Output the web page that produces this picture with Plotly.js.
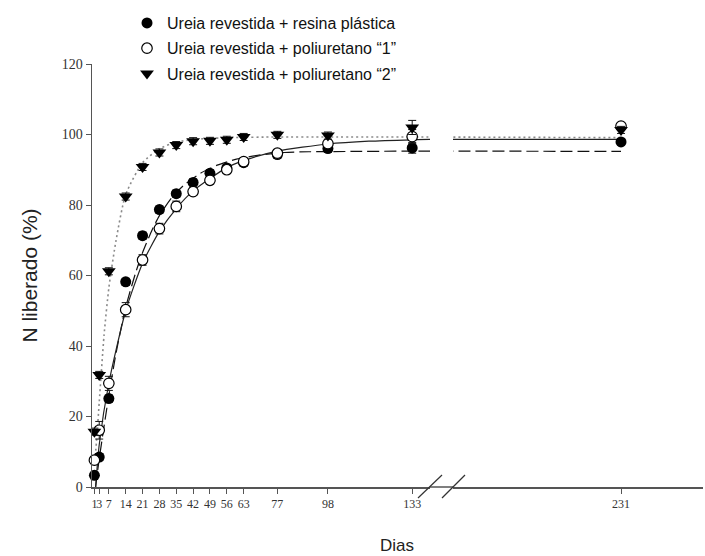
<!DOCTYPE html>
<html>
<head>
<meta charset="utf-8">
<script src="https://cdn.plot.ly/plotly-3.0.1.min.js"></script>
<style>html,body{margin:0;padding:0;background:#fff;}#chart{width:705px;height:556px;}</style>
</head>
<body>
<div id="chart"></div>
<script>
// ---- data ----
const days = [1, 3, 7, 14, 21, 28, 35, 42, 49, 56, 63, 77, 98, 133, 231];
const resina = [3.3, 8.5, 25.1, 58.2, 71.3, 78.7, 83.2, 86.4, 89.0, 90.5, 92.0, 94.3, 96.0, 96.2, 97.9];
const poli1  = [7.6, 16.1, 29.4, 50.3, 64.4, 73.3, 79.6, 83.8, 87.0, 90.0, 92.3, 94.7, 97.4, 99.4, 102.4];
const poli2  = [15.7, 31.8, 61.2, 82.4, 90.8, 94.9, 97.0, 98.1, 98.2, 98.5, 99.3, 99.9, 99.7, 102.0, 101.3];
const errResina = [0.5, 1, 1, 1, 1, 1, 1, 1, 1, 1, 1, 1, 1, 1.5, 0.5];
const errPoli1  = [1, 2.5, 2, 2, 1.5, 1.5, 1.5, 1, 1, 1, 1, 1, 1, 2, 1];
const errPoli2  = [1, 1, 1, 1, 1, 1, 1, 1, 1, 1, 1, 1, 1, 2, 1];

// fitted curves
const fitResinaDays = [1.5, 3, 7, 10, 14, 18, 21, 25, 28, 33, 38, 45, 52, 60, 70, 80, 90, 110, 140, 231];
const fitResina     = [0, 8, 26, 38, 51, 60.5, 66.5, 73, 77, 82, 85.5, 89, 91.3, 93, 94.2, 94.9, 95.1, 95.2, 95.3, 95.2];
const fitPoli1Days  = [1.5, 3, 7, 14, 21, 28, 35, 42, 49, 56, 63, 77, 98, 115, 133, 140, 231];
const fitPoli1      = [0, 12, 29.5, 50, 63.5, 72.5, 79, 84, 87.5, 90.6, 92.6, 95.3, 97.3, 98.1, 98.5, 98.6, 98.6];
const fitPoli2Days  = [1, 2, 3, 5, 7, 10, 14, 21, 28, 35, 42, 56, 77, 98, 140, 231];
const fitPoli2      = [6, 14, 24, 43, 56.5, 70, 83, 92, 96, 97.8, 98.6, 99.1, 99.3, 99.3, 99.3, 99.1];

const names = ['Ureia revestida + resina plástica', 'Ureia revestida + poliuretano \u201c1\u201d', 'Ureia revestida + poliuretano \u201c2\u201d'];
const tickDays1 = [1, 3, 7, 14, 21, 28, 35, 42, 49, 56, 63, 77, 98, 133];
const tickDays2 = [231];
const yTicks = [0, 20, 40, 60, 80, 100, 120];

const BREAK = 150;
const traces = [];

function curve(xs, ys, dash, color, width) {
  ['x', 'x2'].forEach(ax => {
    traces.push({x: xs, y: ys, xaxis: ax, yaxis: 'y', mode: 'lines', showlegend: false, hoverinfo: 'skip',
      line: {color: color, width: width, dash: dash, shape: 'spline', smoothing: 0.6}});
  });
}
curve(fitResinaDays, fitResina, '12px,5px', '#111', 1.2);
curve(fitPoli1Days, fitPoli1, 'solid', '#222', 1.2);
curve(fitPoli2Days, fitPoli2, '2px,3px', '#8a8a8a', 1.6);

function points(vals, errs, marker, name, rank) {
  const sel1 = days.map((d, i) => d < BREAK ? i : -1).filter(i => i >= 0);
  const sel2 = days.map((d, i) => d >= BREAK ? i : -1).filter(i => i >= 0);
  [[sel1, 'x', true], [sel2, 'x2', false]].forEach(([sel, ax, leg]) => {
    traces.push({
      x: sel.map(i => days[i]), y: sel.map(i => vals[i]), xaxis: ax, yaxis: 'y',
      mode: 'markers', name: name, legendgroup: name, showlegend: leg, legendrank: rank,
      cliponaxis: false, marker: marker,
      error_y: {type: 'data', array: sel.map(i => errs[i]), visible: true, color: '#111', thickness: 1, width: 4}
    });
  });
}
points(resina, errResina, {symbol: 'circle', size: 11, color: '#000', line: {width: 0}}, names[0], 1);
points(poli1, errPoli1, {symbol: 'circle', size: 10.5, color: '#fff', line: {color: '#000', width: 1.2}}, names[1], 2);
points(poli2, errPoli2, {symbol: 'triangle-down', size: 12, color: '#000', line: {width: 0}}, names[2], 3);

// pixel helpers for decorations (plot area: x 92..703, y 64..487)
const L = 92, W = 611, B = 487, H = 423;
const px = p => (p - L) / W;
const py = p => (B - p) / H;

const axisCommon = {
  showline: true, linecolor: '#555', linewidth: 1.5, ticks: 'outside', ticklen: 5, tickcolor: '#555',
  showgrid: false, zeroline: false, tickangle: 0,
  tickfont: {family: 'Liberation Serif', size: 12, color: '#333'}, fixedrange: true
};

const layout = {
  width: 705, height: 556,
  margin: {l: L, r: 705 - L - W, t: B - H, b: 556 - B},
  paper_bgcolor: '#fff', plot_bgcolor: '#fff',
  showlegend: true,
  legend: {x: px(127), y: py(6), xanchor: 'left', yanchor: 'top', bgcolor: 'rgba(0,0,0,0)',
    font: {family: 'Liberation Sans', size: 16, color: '#111'}, tracegroupgap: 1.5, traceorder: 'grouped'},
  xaxis: Object.assign({}, axisCommon, {domain: [0, px(430)], range: [0, 140.4], anchor: 'y',
    tickmode: 'array', tickvals: tickDays1, ticktext: tickDays1.map(String)}),
  xaxis2: Object.assign({}, axisCommon, {domain: [px(453), 1], range: [161.3, 265], anchor: 'y',
    tickmode: 'array', tickvals: tickDays2, ticktext: tickDays2.map(String)}),
  yaxis: Object.assign({}, axisCommon, {range: [0, 120], tickmode: 'array', tickvals: yTicks,
    ticktext: yTicks.map(String), tickfont: {family: 'Liberation Serif', size: 14, color: '#333'},
    title: {text: 'N liberado (%)', font: {family: 'Liberation Sans', size: 21, color: '#222'}, standoff: 18}}),
  shapes: [
    {type: 'line', xref: 'paper', yref: 'paper', x0: px(430), x1: px(453), y0: 0, y1: 0, line: {color: '#555', width: 1.5}},
    {type: 'line', xref: 'paper', yref: 'paper', x0: px(418), y0: py(498), x1: px(442), y1: py(475), line: {color: '#333', width: 1.2}},
    {type: 'line', xref: 'paper', yref: 'paper', x0: px(442), y0: py(498), x1: px(465), y1: py(475), line: {color: '#333', width: 1.2}}
  ],
  annotations: [
    {text: 'Dias', xref: 'paper', yref: 'paper', x: px(397), y: py(545), xanchor: 'center', yanchor: 'middle',
      showarrow: false, font: {family: 'Liberation Sans', size: 17, color: '#222'}}
  ]
};

Plotly.newPlot('chart', traces, layout, {displayModeBar: false, staticPlot: true});
</script>
</body>
</html>
